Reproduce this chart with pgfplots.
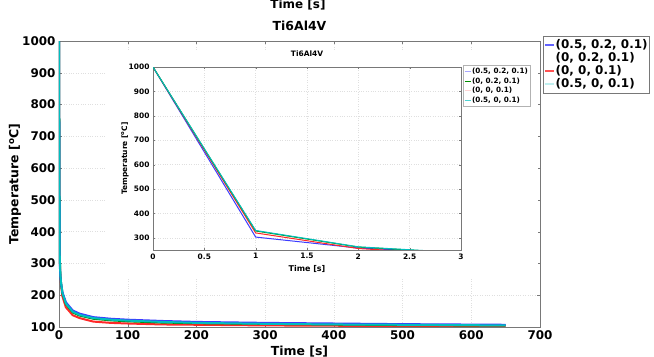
\documentclass[border=0pt]{standalone}
\usepackage{fontspec}
\setmainfont{DejaVu Sans}
\usepackage{pgfplots}
\usepackage{pgfplotstable}
\pgfplotsset{compat=1.18}

\definecolor{cblue}{RGB}{60,60,255}
\definecolor{cgreen}{RGB}{0,140,0}
\definecolor{cred}{RGB}{255,40,40}
\definecolor{ccyan}{RGB}{0,190,190}
\definecolor{axgray}{RGB}{120,120,120}

% cooling curves, time [s] vs temperature [C]
\pgfplotstableread{
t T
0 1000
1 303
2 258
3 238
5 210
10 178
20 152
30 142
50 131
75 126
100 123
150 119
200 116
300 113
400 111
500 109
650 107
}\tblA
\pgfplotstableread{
t T
0 1000
1 328
2 262
3 238
5 206
10 172
20 146
30 136
50 126
75 121
100 118
150 114
200 112
300 110
400 108
500 106
650 105
}\tblB
\pgfplotstableread{
t T
0 1000
1 320
2 256
3 231
5 196
10 162
20 137
30 128
50 117
75 113
100 111
150 108
200 107
300 105
400 104
500 103
650 103
}\tblC
\pgfplotstableread{
t T
0 1000
1 330
2 263
3 239
5 207
10 174
20 148
30 138
50 128
75 123
100 120
150 116
200 113
300 110
400 108
500 107
650 105
}\tblD

\pgfplotsset{
  common/.style={
    scale only axis,
    axis line style={axgray},
    tick style={axgray},
    grid=major,
    grid style={dotted, gray!25},
    /pgf/number format/1000 sep={},
    /pgf/number format/assume math mode=true,
  },
}

\begin{document}
\begin{tikzpicture}
\path[use as bounding box] (0bp,0bp) rectangle (654bp,357bp);
\node[font=\fontsize{12}{12}\selectfont\bfseries] at (298bp,352bp) {Time [s]};

\begin{axis}[common,
  at={(59bp,30bp)}, anchor=south west,
  width=481bp, height=286bp,
  xmin=0, xmax=700, ymin=100, ymax=1000,
  xtick={0,100,...,700}, ytick={100,200,...,1000},
  major tick length=3bp,
  ticklabel style={font=\fontsize{12}{12}\selectfont\bfseries},
  title={Ti6Al4V},
  title style={font=\fontsize{12.5}{12.5}\selectfont\bfseries, at={(axis description cs:0.5,1)}, anchor=center, yshift=9bp},
  xlabel={Time [s]},
  xlabel style={font=\fontsize{12.5}{12.5}\selectfont\bfseries, at={(axis description cs:0.5,-0.0874)}, anchor=center},
  ylabel={Temperature [\textsuperscript{o}C]},
  ylabel style={font=\fontsize{12.5}{12.5}\selectfont\bfseries, at={(axis description cs:-0.0915,0.5)}, anchor=center},
  legend style={at={(rel axis cs:1,1)}, anchor=north west, xshift=3bp, yshift=5bp,
    draw=axgray, font=\fontsize{12}{12}\selectfont\bfseries,
    inner xsep=1bp, inner ysep=1.5bp, row sep=-1.5bp,
    nodes={inner xsep=1bp}},
  legend cell align=left,
  legend image code/.code={\draw[#1, line width=1.5bp] (0bp,0bp) -- (9bp,0bp);},
]
\addplot[cred, line width=2bp, forget plot] table[x=t,y=T] {\tblC};
\addplot[cgreen, line width=2bp, forget plot] table[x=t,y=T] {\tblB};
\addplot[cblue, line width=2bp, forget plot] table[x=t,y=T] {\tblA};
\addplot[ccyan, line width=2bp, forget plot] table[x=t,y=T] {\tblD};
\addlegendimage{cblue!80}
\addlegendentry{(0.5, 0.2, 0.1)}
\addlegendimage{white}
\addlegendentry{(0, 0.2, 0.1)}
\addlegendimage{cred!80}
\addlegendentry{(0, 0, 0.1)}
\addlegendimage{ccyan!25}
\addlegendentry{(0.5, 0, 0.1)}
\end{axis}

% white panel behind the zoomed view
\fill[white] (106bp,79bp) rectangle (538bp,306bp);

\begin{axis}[common,
  at={(153bp,107bp)}, anchor=south west,
  width=308bp, height=183bp,
  xmin=0, xmax=3, ymin=250, ymax=1000,
  restrict x to domain=0:4,
  xtick={0,0.5,...,3}, ytick={300,400,...,1000},
  major tick length=2bp,
  ticklabel style={font=\fontsize{7.5}{7.5}\selectfont\bfseries},
  title={Ti6Al4V},
  title style={font=\fontsize{7.5}{7.5}\selectfont\bfseries, at={(axis description cs:0.5,1)}, anchor=center, yshift=7bp},
  xlabel={Time [s]},
  xlabel style={font=\fontsize{8}{8}\selectfont\bfseries, at={(axis description cs:0.5,-0.104)}, anchor=center},
  ylabel={Temperature [\textsuperscript{o}C]},
  ylabel style={font=\fontsize{7.5}{7.5}\selectfont\bfseries, at={(axis description cs:-0.091,0.5)}, anchor=center},
  legend style={at={(rel axis cs:1,1)}, anchor=north west, xshift=2bp, yshift=2bp,
    draw=gray!60, font=\fontsize{7.3}{7.3}\selectfont\bfseries,
    inner xsep=1bp, inner ysep=1bp, row sep=-1.5bp,
    nodes={inner xsep=1bp}},
  legend cell align=left,
  legend image code/.code={\draw[#1, line width=0.8bp] (0bp,0bp) -- (6bp,0bp);},
]
\addplot[cblue, line width=1bp, forget plot] table[x=t,y=T] {\tblA};
\addplot[cred, line width=1bp, forget plot] table[x=t,y=T] {\tblC};
\addplot[cgreen, line width=1bp, forget plot] table[x=t,y=T] {\tblB};
\addplot[ccyan, line width=1bp, forget plot] table[x=t,y=T] {\tblD};
\addlegendimage{cblue!45}
\addlegendentry{(0.5, 0.2, 0.1)}
\addlegendimage{cgreen}
\addlegendentry{(0, 0.2, 0.1)}
\addlegendimage{cred!20}
\addlegendentry{(0, 0, 0.1)}
\addlegendimage{ccyan!70}
\addlegendentry{(0.5, 0, 0.1)}
\end{axis}
\end{tikzpicture}
\end{document}
